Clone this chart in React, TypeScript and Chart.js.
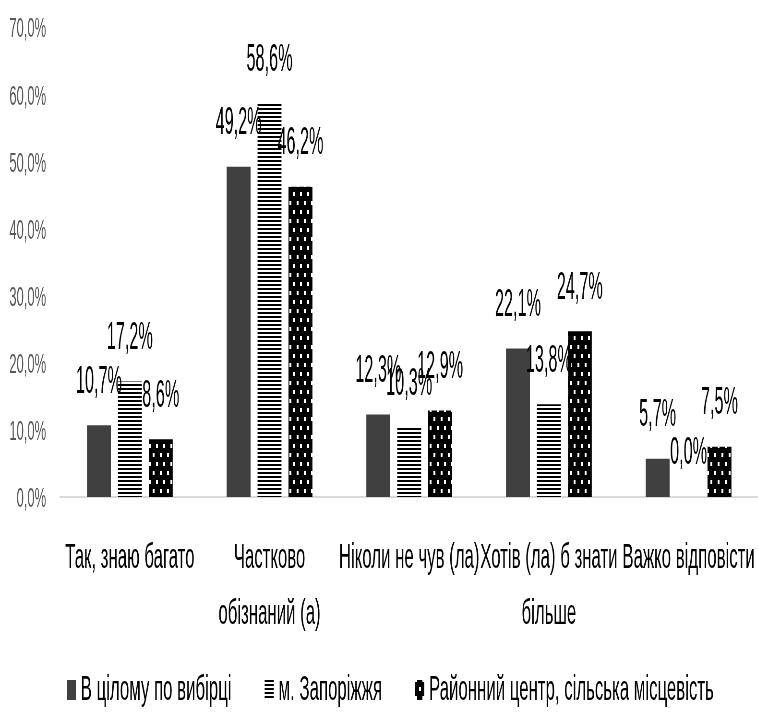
import React, { useEffect, useRef } from 'react';
import { Chart, registerables } from 'chart.js';

Chart.register(...registerables);

const categories: string[][] = [
  ['Так, знаю багато'],
  ['Частково', 'обізнаний (а)'],
  ['Ніколи не чув (ла)'],
  ['Хотів (ла) б знати', 'більше'],
  ['Важко відповісти'],
];
const seriesNames = ['В цілому по вибірці', 'м. Запоріжжя', 'Районний центр, сільська місцевість'];
const wholeSample = [10.7, 49.2, 12.3, 22.1, 5.7];
const zaporizhzhia = [17.2, 58.6, 10.3, 13.8, 0.0];
const districtRural = [8.6, 46.2, 12.9, 24.7, 7.5];
const yTickValues = [0, 10, 20, 30, 40, 50, 60, 70];

const SX = 0.48;
const W = 1580;
const H = 728;
const FONT = "'Liberation Sans', Arial, sans-serif";

const fmt = (v: number) => v.toFixed(1).replace('.', ',') + '%';

function stripePattern(): CanvasPattern | string {
  const c = document.createElement('canvas');
  c.width = 8;
  c.height = 4;
  const g = c.getContext('2d');
  if (!g) return '#000';
  g.fillStyle = '#fff';
  g.fillRect(0, 0, 8, 4);
  g.fillStyle = '#000';
  g.fillRect(0, 0, 8, 2);
  return g.createPattern(c, 'repeat') || '#000';
}

function dotPattern(): CanvasPattern | string {
  const c = document.createElement('canvas');
  c.width = 15;
  c.height = 18;
  const g = c.getContext('2d');
  if (!g) return '#000';
  g.fillStyle = '#000';
  g.fillRect(0, 0, 15, 18);
  g.fillStyle = '#fff';
  g.fillRect(3, 3, 4, 4);
  g.fillRect(10, 12, 4, 4);
  return g.createPattern(c, 'repeat') || '#000';
}

const valueLabels = {
  id: 'valueLabels',
  afterDatasetsDraw(chart: any) {
    const ctx = chart.ctx;
    chart.data.datasets.forEach((ds: any, di: number) => {
      const meta = chart.getDatasetMeta(di);
      meta.data.forEach((bar: any, i: number) => {
        const v = ds.data[i] as number;
        ctx.save();
        ctx.translate(bar.x, bar.y - 43);
        ctx.scale(0.89, 1);
        ctx.font = `38px ${FONT}`;
        ctx.fillStyle = '#000';
        ctx.textAlign = 'center';
        ctx.textBaseline = 'middle';
        ctx.fillText(fmt(v), 0, 0);
        ctx.restore();
      });
    });
  },
};

const customLegend = {
  id: 'customLegend',
  afterDraw(chart: any) {
    const ctx = chart.ctx;
    ctx.save();
    ctx.font = `35px ${FONT}`;
    const items = chart.data.datasets.map((ds: any) => ({
      text: ds.label as string,
      fill: ds.backgroundColor,
      w: ctx.measureText(ds.label).width,
    }));
    const boxW = 19;
    const boxH = 20;
    const gap = 10;
    const spacing = 69;
    const total =
      items.reduce((a: number, it: any) => a + boxW + gap + it.w, 0) + spacing * (items.length - 1);
    let x = 813 - total / 2;
    const cy = 690;
    items.forEach((it: any) => {
      ctx.fillStyle = it.fill;
      ctx.fillRect(x, cy - boxH / 2, boxW, boxH);
      x += boxW + gap;
      ctx.fillStyle = '#000';
      ctx.textAlign = 'left';
      ctx.textBaseline = 'middle';
      ctx.fillText(it.text, x, cy);
      x += it.w + spacing;
    });
    ctx.restore();
  },
};

export default function App() {
  const ref = useRef<HTMLCanvasElement>(null);

  useEffect(() => {
    if (!ref.current) return;
    const chart = new Chart(ref.current, {
      type: 'bar',
      data: {
        labels: categories,
        datasets: [
          { label: seriesNames[0], data: wholeSample, backgroundColor: '#404040', borderWidth: 0 },
          { label: seriesNames[1], data: zaporizhzhia, backgroundColor: stripePattern() as any, borderWidth: 0 },
          { label: seriesNames[2], data: districtRural, backgroundColor: dotPattern() as any, borderWidth: 0 },
        ],
      },
      options: {
        responsive: false,
        animation: false,
        devicePixelRatio: 1,
        layout: { padding: { top: 27, right: 0, bottom: 0, left: 0 } },
        datasets: { bar: { barPercentage: 0.774, categoryPercentage: 0.664 } },
        scales: {
          x: {
            grid: { display: false, drawTicks: false },
            border: { display: true, color: '#d9d9d9', width: 2 },
            ticks: {
              color: '#000',
              font: { family: FONT, size: 35, lineHeight: '56px' as any },
              padding: 33,
              autoSkip: false,
              maxRotation: 0,
              minRotation: 0,
            },
            afterFit: (s: any) => {
              s.height = 231;
              s.paddingLeft = 0;
              s.paddingRight = 0;
            },
          },
          y: {
            min: 0,
            max: 70,
            grid: { display: false, drawTicks: false },
            border: { display: false },
            afterBuildTicks: (s: any) => {
              s.ticks = yTickValues.map((v) => ({ value: v }));
            },
            ticks: {
              color: '#595959',
              font: { family: FONT, size: 27 },
              padding: 29,
              labelOffset: 3,
              callback: (v: any) => fmt(Number(v)),
            },
            afterFit: (s: any) => {
              s.width = 125;
              s.paddingTop = 0;
              s.paddingBottom = 0;
            },
          },
        },
        plugins: {
          tooltip: { enabled: false },
          legend: { display: false },
        },
      },
      plugins: [valueLabels, customLegend],
    });
    return () => chart.destroy();
  }, []);

  return (
    <div
      style={{
        position: 'absolute',
        left: 0,
        top: 0,
        width: 758,
        height: 728,
        overflow: 'hidden',
        background: '#fff',
      }}
    >
      <canvas
        ref={ref}
        width={W}
        height={H}
        style={{ width: W, height: H, transform: `scaleX(${SX})`, transformOrigin: '0 0', display: 'block' }}
      />
    </div>
  );
}
